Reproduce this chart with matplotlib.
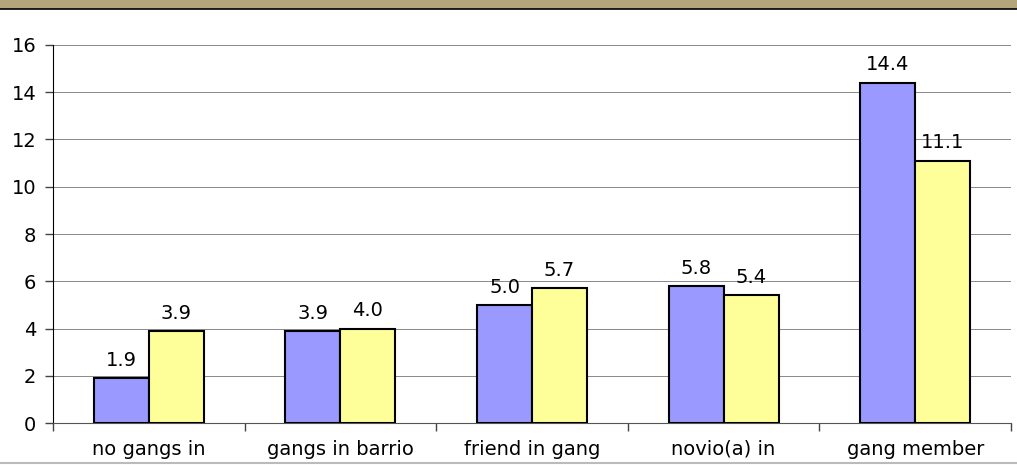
import matplotlib.pyplot as plt
import matplotlib.patches as mpatches
from matplotlib.lines import Line2D
import numpy as np

categories = ["no gangs in", "gangs in barrio", "friend in gang", "novio(a) in", "gang member"]
series_a = [1.9, 3.9, 5.0, 5.8, 14.4]
series_b = [3.9, 4.0, 5.7, 5.4, 11.1]
y_ticks = [0, 2, 4, 6, 8, 10, 12, 14, 16]

fig = plt.figure(figsize=(10.17, 4.65), dpi=100)
fig.patch.set_facecolor("white")

# tan strip along the top edge
fig.patches.append(mpatches.Rectangle((0, 1 - 9 / 465), 1, 9 / 465, transform=fig.transFigure,
                                      facecolor="#b3a57c", edgecolor="none", zorder=0))
fig.lines.append(Line2D([0, 1], [1 - 9.5 / 465] * 2, transform=fig.transFigure, color="black", lw=1.2))
fig.lines.append(Line2D([0, 1], [2 / 465] * 2, transform=fig.transFigure, color="#bbbbbb", lw=1.5))

ax = fig.add_axes([53 / 1017, 42 / 465, 958 / 1017, 378 / 465])
x = np.arange(len(categories))
w = 0.287
fs = 14

bars_a = ax.bar(x - w / 2, series_a, w, color="#9999ff", edgecolor="black", linewidth=1.5, zorder=3)
bars_b = ax.bar(x + w / 2, series_b, w, color="#ffff99", edgecolor="black", linewidth=1.5, zorder=3)

for bars, vals in ((bars_a, series_a), (bars_b, series_b)):
    for b, v in zip(bars, vals):
        ax.annotate(f"{v:.1f}", (b.get_x() + b.get_width() / 2, v), xytext=(0, 6),
                    textcoords="offset points", ha="center", va="bottom", fontsize=fs,
                    color="black", zorder=4)

ax.set_xlim(-0.5, len(categories) - 0.5)
ax.set_ylim(0, 16)
ax.set_yticks(y_ticks)
ax.set_yticklabels([str(t) for t in y_ticks], fontsize=fs)
ax.yaxis.grid(True, color="#888888", linewidth=0.7, zorder=0)
ax.set_axisbelow(True)

ax.set_xticks(x)
ax.set_xticklabels(categories, fontsize=fs)
ax.tick_params(axis="x", length=0, pad=12)
ax.set_xticks(np.arange(len(categories) + 1) - 0.5, minor=True)
ax.tick_params(axis="x", which="minor", length=6, width=1, color="#444444")
ax.tick_params(axis="y", length=6, width=1, color="#444444", pad=6)

for side in ("top", "right"):
    ax.spines[side].set_visible(False)
ax.spines["left"].set_color("black")
ax.spines["bottom"].set_color("#555555")

fig.savefig("out.png", dpi=100)
